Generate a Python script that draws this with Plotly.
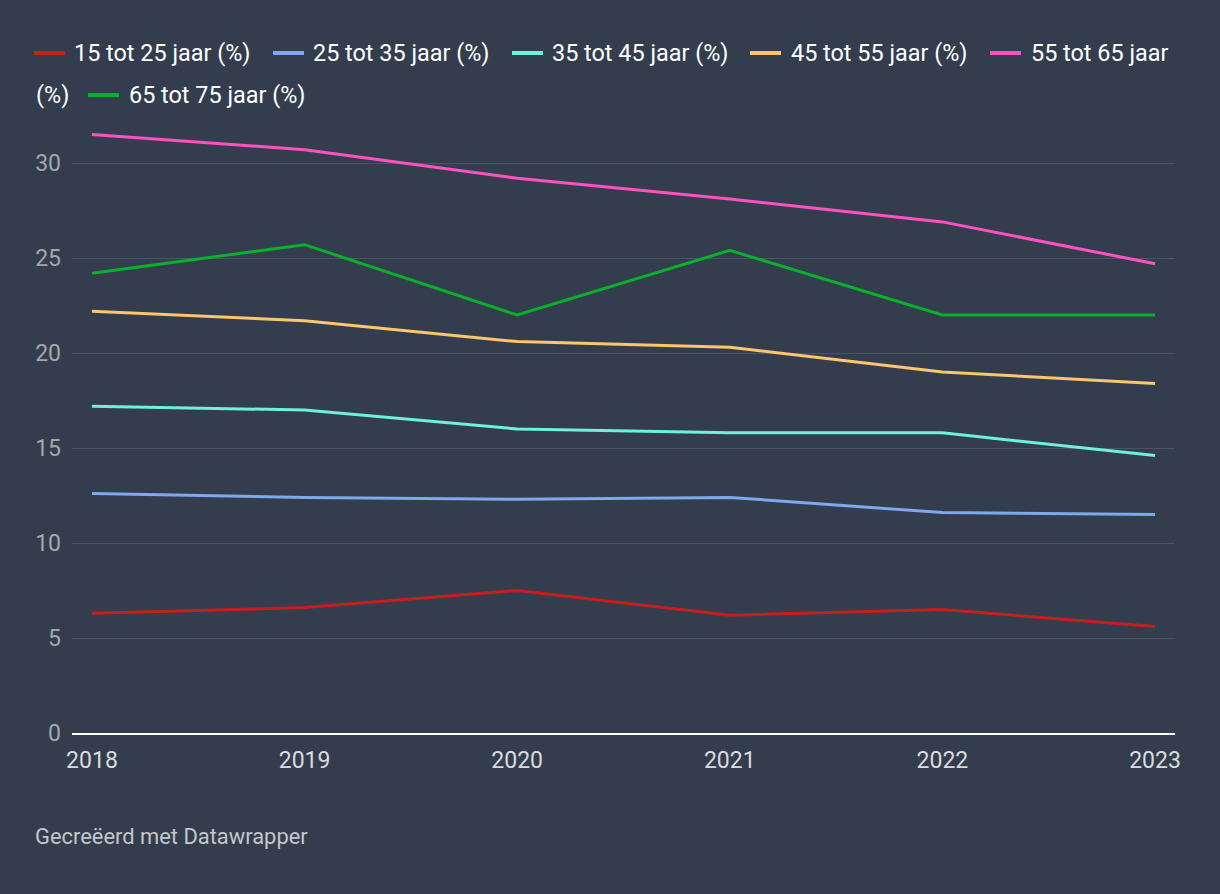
import plotly.graph_objects as go

years = [2018, 2019, 2020, 2021, 2022, 2023]
series_names = ["15 tot 25 jaar (%)", "25 tot 35 jaar (%)", "35 tot 45 jaar (%)",
                "45 tot 55 jaar (%)", "55 tot 65 jaar (%)", "65 tot 75 jaar (%)"]
v_15_25 = [6.3, 6.6, 7.5, 6.2, 6.5, 5.6]
v_25_35 = [12.6, 12.4, 12.3, 12.4, 11.6, 11.5]
v_35_45 = [17.2, 17.0, 16.0, 15.8, 15.8, 14.6]
v_45_55 = [22.2, 21.7, 20.6, 20.3, 19.0, 18.4]
v_55_65 = [31.5, 30.7, 29.2, 28.1, 26.9, 24.7]
v_65_75 = [24.2, 25.7, 22.0, 25.4, 22.0, 22.0]
values = [v_15_25, v_25_35, v_35_45, v_45_55, v_55_65, v_65_75]
colors = ["#c71e1d", "#7fa8ee", "#6ef2da", "#fec66d", "#ff52c0", "#09b02c"]
y_ticks = [0, 5, 10, 15, 20, 25, 30]

BG = "#333d4d"
W, H = 1220, 894
ML, MR, MT, MB = 72, 45, 125, 161
PW, PH = W - ML - MR, H - MT - MB


def px_x(x):
    return (x - ML) / PW


def px_y(y):
    return 1 - (y - MT) / PH


fig = go.Figure()
for name, vals, col in zip(series_names, values, colors):
    fig.add_trace(go.Scatter(x=years, y=vals, name=name, mode="lines",
                             line=dict(color=col, width=3), showlegend=False,
                             cliponaxis=False))

# custom legend (wrapping like the original)
legend_items = [
    (colors[0], 34, 53, [("15 tot 25 jaar (%)", 72, 53)]),
    (colors[1], 273, 53, [("25 tot 35 jaar (%)", 311, 53)]),
    (colors[2], 512, 53, [("35 tot 45 jaar (%)", 550, 53)]),
    (colors[3], 750, 53, [("45 tot 55 jaar (%)", 789, 53)]),
    (colors[4], 990, 53, [("55 tot 65 jaar", 1029, 53), ("(%)", 34, 95)]),
    (colors[5], 88, 95, [("65 tot 75 jaar (%)", 127, 95)]),
]
for col, lx, ly, pieces in legend_items:
    fig.add_shape(type="line", xref="paper", yref="paper",
                  x0=px_x(lx), x1=px_x(lx + 31), y0=px_y(ly), y1=px_y(ly),
                  line=dict(color=col, width=4))
    for txt, tx, ty in pieces:
        fig.add_annotation(text=txt, xref="paper", yref="paper", x=px_x(tx), y=px_y(ty),
                           xanchor="left", yanchor="middle", showarrow=False,
                           font=dict(family="Roboto", size=23.4, color="#ffffff"))

fig.add_annotation(text="Gecreëerd met Datawrapper", xref="paper", yref="paper",
                   x=px_x(33), y=px_y(836), xanchor="left", yanchor="middle",
                   showarrow=False, font=dict(family="Roboto", size=21.9, color="#c3c6cb"))

fig.update_layout(
    width=W, height=H,
    margin=dict(l=ML, r=MR, t=MT, b=MB),
    paper_bgcolor=BG, plot_bgcolor=BG,
    font=dict(family="Roboto"),
    xaxis=dict(range=[2017.906, 2023.094], tickvals=years, ticktext=[str(y) for y in years],
               showgrid=False, zeroline=False, showline=True, linecolor="#ffffff", linewidth=2,
               tickfont=dict(size=23, color="#d9dbde"), ticks="", ticklabelstandoff=5),
    yaxis=dict(range=[0, 32], tickvals=y_ticks, showgrid=True, gridcolor="#4b5462",
               gridwidth=1, zeroline=False, showline=False, ticks="",
               tickfont=dict(size=23, color="#a3a7ad"), ticklabelstandoff=10),
)

fig.write_html("out.html")
